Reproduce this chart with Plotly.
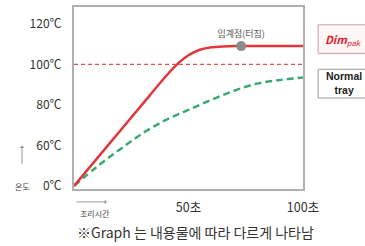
import plotly.graph_objects as go

# x: cooking time (s); y: chart scale (label "0℃" sits at 40 on the drawn scale)
time_s = [0, 10, 20, 30, 40, 45, 50, 55, 60, 65, 70, 80, 90, 100]
dimpak_temp = [40, 53.5, 67, 80.5, 94, 100, 104.5, 107.2, 108.4, 108.8, 109, 109, 109, 109]
normal_time = [0, 10, 20, 30, 40, 50, 60, 70, 80, 90, 100]
normal_temp = [40, 49.5, 58, 66, 72.5, 77.5, 82.5, 87, 90.5, 92.3, 93.5]
boil_time = [0, 100]
boil_temp = [100, 100]
crit_time = [73]
crit_temp = [109]
y_tickvals = [40, 60, 80, 100, 120]
y_ticktext = ["0℃", "60℃", "80℃", "100℃", "120℃"]
x_tickvals = [50, 100]
x_ticktext = ["50초", "100초"]

FONT = "Noto Sans CJK KR"

fig = go.Figure()
fig.add_trace(go.Scatter(x=boil_time, y=boil_temp, mode="lines",
                         line=dict(color="#d9534f", width=1.2, dash="4px,3px"), hoverinfo="skip"))
fig.add_trace(go.Scatter(x=normal_time, y=normal_temp, mode="lines", line_shape="spline",
                         line=dict(color="#3aa872", width=2.5, dash="7px,4px"), hoverinfo="skip"))
fig.add_trace(go.Scatter(x=time_s, y=dimpak_temp, mode="lines", line_shape="spline",
                         line=dict(color="#e0373d", width=2.5, smoothing=0.6), hoverinfo="skip"))
fig.add_trace(go.Scatter(x=crit_time, y=crit_temp, mode="markers+text",
                         marker=dict(color="#8c8c8c", size=10),
                         text=["임계점(터짐)"], textposition="top center",
                         textfont=dict(family=FONT, size=9, color="#555"), hoverinfo="skip"))

fig.update_layout(
    width=365, height=246, showlegend=False,
    margin=dict(l=74, r=62, t=5, b=57),
    paper_bgcolor="white", plot_bgcolor="white",
    font=dict(family=FONT, color="#333"),
    xaxis=dict(range=[0, 100], tickvals=x_tickvals, ticktext=x_ticktext,
               showgrid=False, zeroline=False, showline=True, mirror=True,
               linecolor="#b0b0b0", linewidth=2, ticks="", ticklabelstandoff=6,
               tickfont=dict(size=12.5, color="#333")),
    yaxis=dict(range=[38.5, 128.3], tickvals=y_tickvals, ticktext=y_ticktext,
               showgrid=False, zeroline=False, showline=True, mirror=True,
               linecolor="#b0b0b0", linewidth=2, ticks="", ticklabelstandoff=8,
               tickfont=dict(size=12, color="#333")),
)

anns = [
    dict(x=-0.223, y=0.011, text="온도", font=dict(size=8, color="#444")),
    dict(x=-0.227, y=0.239, ax=0, ay=20, text="", showarrow=True, arrowhead=1,
         arrowsize=0.8, arrowwidth=1, arrowcolor="#999"),
    dict(x=0.144, y=-0.071, ax=-32, ay=0, text="", showarrow=True, arrowhead=1,
         arrowsize=0.8, arrowwidth=1, arrowcolor="#999"),
    dict(x=0.092, y=-0.136, text="조리시간", font=dict(size=8, color="#444")),
    dict(x=0.53, y=-0.239, text="※Graph 는 내용물에 따라 다르게 나타남",
         font=dict(size=14, color="#333")),
    dict(x=1.175, y=0.823, text="<b><i>Dim</i></b><sub><i>pak</i></sub>",
         font=dict(size=11, color="#e0202a")),
    dict(x=1.18, y=0.58, text="<b>Normal<br>tray</b>",
         font=dict(family="Liberation Sans", size=10.5, color="#222")),
]
for a in anns:
    a.setdefault("showarrow", False)
    a.update(xref="paper", yref="paper", xanchor="center", yanchor="middle")
    fig.add_annotation(**a)

fig.add_shape(type="rect", xref="paper", yref="paper", x0=1.066, x1=1.3, y0=0.745, y1=0.902,
              line=dict(color="#c9a0a0", width=1), fillcolor="rgba(255,240,240,0.6)", layer="below")
fig.add_shape(type="rect", xref="paper", yref="paper", x0=1.066, x1=1.3, y0=0.5, y1=0.658,
              line=dict(color="#999", width=1), fillcolor="white", layer="below")

fig.write_html("out.html", config={"displayModeBar": False},
               post_script="document.body.style.margin='0';document.body.style.overflow='hidden';")
